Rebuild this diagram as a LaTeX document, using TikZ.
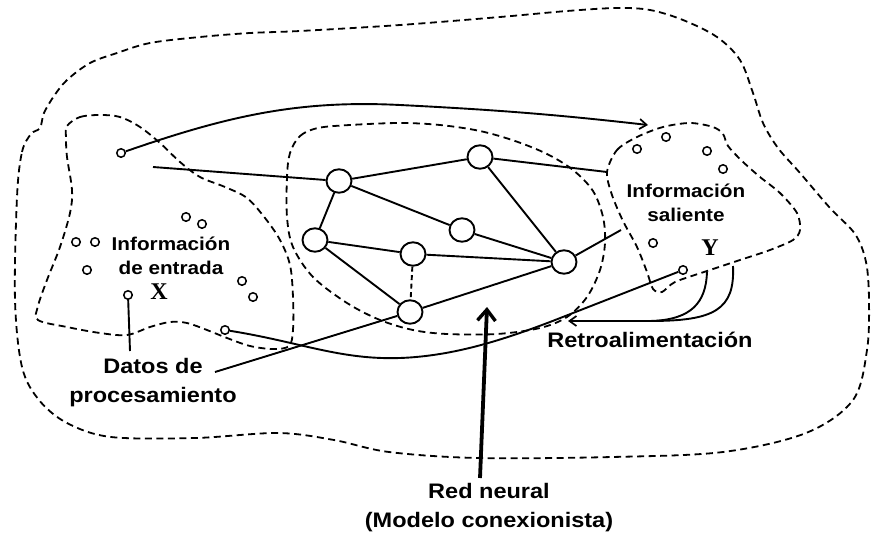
\documentclass[tikz,border=0pt]{standalone}
\usepackage{fontspec}
\setmainfont{Liberation Sans}[FakeStretch=1.12]
\newfontfamily\serifbf{Liberation Serif}
\usetikzlibrary{arrows.meta,shapes.geometric}
\begin{document}
\begin{tikzpicture}[x=1pt,y=-1pt,
  region/.style={draw=black,line width=1.8pt,dash pattern=on 7pt off 4.5pt},
  conn/.style={draw=black,line width=1.9pt},
  dashconn/.style={conn,dash pattern=on 5pt off 3.5pt},
  neuron/.style={ellipse,draw=black,line width=1.9pt,fill=white,minimum width=25pt,minimum height=23.5pt,inner sep=0pt},
  dot/.style={circle,draw=black,line width=1.5pt,fill=white,minimum size=8.5pt,inner sep=0pt},
  biglab/.style={align=center,inner sep=0pt,font=\fontsize{21}{29}\selectfont\bfseries},
  smalllab/.style={align=center,inner sep=0pt,font=\fontsize{18.5}{24.5}\selectfont\bfseries},
  letter/.style={inner sep=0pt,font=\serifbf\fontsize{24}{24}\selectfont\bfseries},
  thinarrow/.style={conn,-{Straight Barb[length=7pt,width=10pt,line width=1.7pt]}},
  bigarrow/.style={draw=black,line width=3.8pt,-{Straight Barb[length=11pt,width=18pt,line width=3.4pt]}}
]
\useasboundingbox (0,0) rectangle (872,535);

% outer region
\draw[region] plot[smooth cycle,tension=0.55] coordinates {
 (17,197) (22,152) (31,134) (40,128) (44,113) (54,96) (67,80) (90,63) (117,53)
 (150,43) (200,37) (250,33) (300,31) (400,25) (500,17) (567,11) (617,8) (650,10)
 (683,20) (717,37) (740,60) (753,93) (763,123) (778,148) (800,173) (830,208)
 (855,234) (866,262) (869,300) (867,350) (853,400) (806,433) (723,452) (612,457)
 (478,458) (389,452) (334,440) (278,433) (195,438) (111,437) (67,423) (39,400)
 (22,367) (15,300)};

% input region
\draw[region] plot[smooth cycle,tension=0.55] coordinates {
 (67,126) (80,117) (100,115) (120,117) (140,127) (160,143) (180,162) (200,177)
 (225,187) (247,198) (265,218) (280,240) (290,265) (293,297) (293,330) (289,346)
 (273,349) (250,346) (227,338) (207,330) (187,323) (170,322) (150,327) (127,335)
 (100,333) (67,327) (38,320) (38,306) (47,280) (60,247) (70,213) (72,190)
 (67,157) (66,138)};

% network region
\draw[region] plot[smooth cycle,tension=0.55] coordinates {
 (290,153) (300,136) (318,128) (350,125) (400,123) (440,125) (480,131) (515,141)
 (547,154) (573,170) (593,191) (603,217) (605,243) (600,270) (587,297) (567,317)
 (540,328) (497,334) (447,334) (413,330) (380,320) (347,303) (313,277) (293,247)
 (287,217) (287,177)};

% output region
\draw[region] plot[smooth cycle,tension=0.5] coordinates {
 (607,172) (617,150) (637,137) (663,127) (690,123) (713,127) (723,134) (728,146)
 (742,161) (760,177) (780,193) (797,213) (800,230) (793,240) (770,250) (740,260)
 (707,271) (675,282) (662,292) (653,289) (647,272) (637,247) (623,221) (612,195)};

% neurons
\node[neuron] (n1) at (339,181) {};
\node[neuron] (n2) at (480,157) {};
\node[neuron] (n3) at (315,240) {};
\node[neuron] (n4) at (413,254) {};
\node[neuron] (n5) at (462,230) {};
\node[neuron] (n6) at (564,262) {};
\node[neuron] (n7) at (410,312) {};

% small units
\node[dot] (i0) at (121,153) {};
\node[dot] (i1) at (186,217) {};
\node[dot] (i2) at (202,224) {};
\node[dot] (i3) at (76,242) {};
\node[dot] (i4) at (95,242) {};
\node[dot] (i5) at (87,270) {};
\node[dot] (i6) at (128,295) {};
\node[dot] (i7) at (242,281) {};
\node[dot] (i8) at (253,297) {};
\node[dot] (i9) at (225,330) {};
\node[dot] (o1) at (637,149) {};
\node[dot] (o2) at (666,137) {};
\node[dot] (o3) at (707,151) {};
\node[dot] (o4) at (723,169) {};
\node[dot] (o5) at (653,243) {};
\node[dot] (o6) at (683,270) {};

% labels
\node[smalllab] (inent) at (171,256) {Información\\de entrada};
\node[smalllab] (insal) at (686,203) {Información\\saliente};
\node[letter] (X) at (159,292) {X};
\node[letter] (Y) at (710,248) {Y};
\node[biglab] (datos) at (153,383) {Datos de\\procesamiento};
\node[biglab] (retro) at (650,340) {Retroalimentación};
\node[biglab] (rn) at (489,508) {Red neural\\(Modelo conexionista)};

% free ends
\coordinate (a0) at (153,167);
\coordinate (c2) at (607,172);
\coordinate (c3) at (621,230);
\coordinate (d1) at (215,372);
\coordinate (d0) at (130,351);
\coordinate (t1) at (648,125);
\coordinate (fa1) at (707,272);
\coordinate (fa2) at (733,266);
\coordinate (fj) at (650,321);
\coordinate (ft) at (568,321);
\coordinate (rnbase) at (480,478);
\coordinate (rntip) at (487,307);

% network connections
\draw[conn] (a0) -- (n1);
\draw[conn] (n1) -- (n2);
\draw[conn] (n1) -- (n3);
\draw[conn] (n1) -- (n5);
\draw[conn] (n2) -- (n6);
\draw[conn] (n2) -- (c2);
\draw[conn] (n3) -- (n4);
\draw[conn] (n3) -- (n7);
\draw[conn] (n4) -- (n6);
\draw[conn] (n5) -- (n6);
\draw[conn] (n7) -- (n6);
\draw[conn] (n6) -- (c3);
\draw[dashconn] (n4) -- (n7);
\draw[conn] (d1) -- (n7);
\draw[conn] (i6) -- (d0);

% long curves
\draw[thinarrow] (i0) .. controls (230,115) and (300,100) .. (400,105)
  .. controls (500,110) and (560,115) .. (t1);
\draw[conn] (i9) .. controls (300,342) and (340,360) .. (400,358)
  .. controls (455,356) and (505,339) .. (550,322) -- (o6);

% feedback
\draw[conn] (fa1) .. controls (706,302) and (692,320) .. (fj);
\draw[conn] (fa2) .. controls (735,310) and (714,321) .. (fj);
\draw[thinarrow] (fj) -- (ft);

% big arrow
\draw[bigarrow] (rnbase) -- (rntip);
\end{tikzpicture}
\end{document}
